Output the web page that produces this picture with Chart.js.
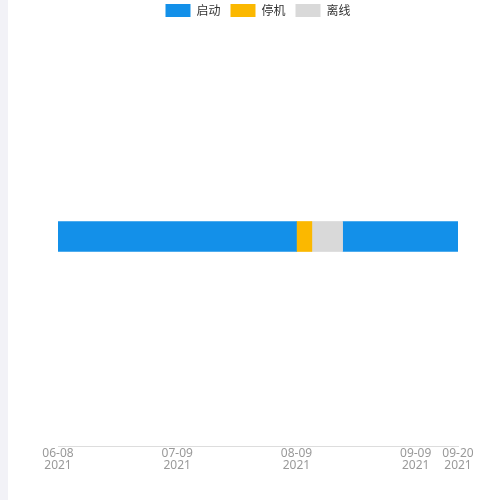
<!DOCTYPE html>
<html>
<head>
<meta charset="utf-8">
<script src="https://cdn.jsdelivr.net/npm/chart.js@4"></script>
<style>
  body { margin: 0; background: #fff; }
  #strip { position: absolute; left: 0; top: 0; width: 8px; height: 500px; background: #f2f2f7; }
  #wrap { position: absolute; left: 0; top: 0; width: 500px; height: 500px; }
</style>
</head>
<body>
<div id="strip"></div>
<div id="wrap"><canvas id="c"></canvas></div>
<script>
// days counted from 2021-06-08
const tickDays = [0, 31, 62, 93, 104];
const tickLabels = [['06-08', '2021'], ['07-09', '2021'], ['08-09', '2021'], ['09-09', '2021'], ['09-20', '2021']];
const runA = [0, 62];
const stopped = [62, 66];
const offline = [66, 74];
const runB = [74, 104];

const ds = (label, val, color) => ({
  label, data: [val], backgroundColor: color, barThickness: 30, borderSkipped: false
});

new Chart(document.getElementById('c'), {
  type: 'bar',
  data: {
    labels: ['设备'],
    datasets: [
      ds('启动', runA, '#1390e9'),
      ds('停机', stopped, '#fbb800'),
      ds('离线', offline, '#d9d9d9'),
      ds('启动2', runB, '#1390e9')
    ]
  },
  options: {
    indexAxis: 'y',
    responsive: true,
    maintainAspectRatio: false,
    animation: false,
    grouped: false,
    layout: { padding: { left: 58, right: 42, top: -6, bottom: 26 } },
    plugins: {
      tooltip: { enabled: false },
      legend: {
        labels: {
          boxWidth: 25, boxHeight: 13, color: '#333',
          font: { size: 12, family: 'Noto Sans CJK SC' },
          padding: 10,
          filter: item => item.text !== '启动2'
        }
      }
    },
    scales: {
      y: { display: false },
      x: {
        type: 'linear', min: 0, max: 104,
        afterBuildTicks: axis => { axis.ticks = tickDays.map(v => ({ value: v })); },
        ticks: {
          autoSkip: false, maxRotation: 0, color: '#999', padding: 2,
          font: { size: 12, family: 'Noto Sans', lineHeight: 1 },
          callback: v => tickLabels[tickDays.indexOf(v)]
        },
        grid: { display: false, drawTicks: false },
        border: { color: '#ddd' }
      }
    }
  }
});
</script>
</body>
</html>
